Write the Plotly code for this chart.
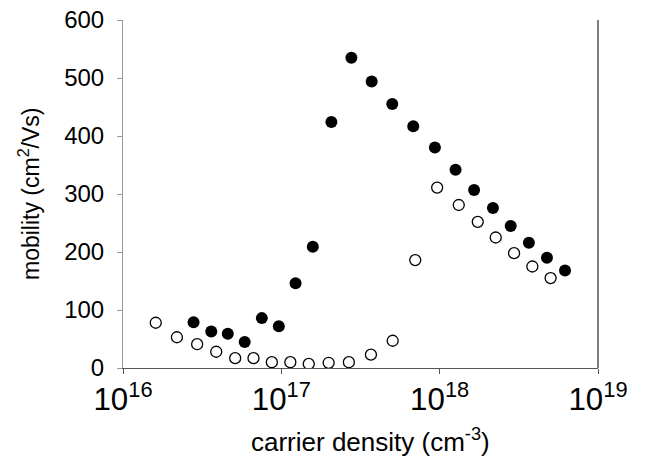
import plotly.graph_objects as go

# carrier density (cm^-3) and mobility (cm^2/Vs)
filled_density = [2.79e16, 3.61e16, 4.59e16, 5.87e16, 7.53e16, 9.64e16, 1.23e17,
                  1.58e17, 2.07e17, 2.77e17, 3.72e17, 5.02e17, 6.81e17, 9.33e17,
                  1.26e18, 1.65e18, 2.17e18, 2.81e18, 3.66e18, 4.76e18, 6.19e18]
filled_mobility = [79, 63, 59, 45, 86, 72, 146, 209, 424, 535, 494, 455, 417, 380,
                   342, 307, 276, 245, 216, 190, 168]

open_density = [1.61e16, 2.19e16, 2.94e16, 3.88e16, 5.11e16, 6.67e16, 8.71e16,
                1.14e17, 1.49e17, 1.99e17, 2.67e17, 3.68e17, 5.05e17, 7.01e17,
                9.64e17, 1.32e18, 1.74e18, 2.26e18, 2.95e18, 3.85e18, 5.02e18]
open_mobility = [78, 53, 41, 28, 17, 17, 10, 10, 7, 9, 10, 23, 47, 186,
                 311, 281, 252, 225, 198, 175, 155]

y_ticks = [0, 100, 200, 300, 400, 500, 600]
x_title = "carrier density (cm<sup>-3</sup>)"
y_title = "mobility (cm<sup>2</sup>/Vs)"

fig = go.Figure()
fig.add_trace(go.Scatter(x=open_density, y=open_mobility, mode="markers",
                         marker=dict(symbol="circle", size=11, color="white",
                                     line=dict(color="black", width=1.3)),
                         showlegend=False))
fig.add_trace(go.Scatter(x=filled_density, y=filled_mobility, mode="markers",
                         marker=dict(symbol="circle", size=12, color="black",
                                     line=dict(color="black", width=0)),
                         showlegend=False))

font_family = "Liberation Sans, Arial, sans-serif"
fig.update_layout(
    width=646, height=465,
    margin=dict(l=123, r=48, t=20, b=97),
    paper_bgcolor="white", plot_bgcolor="white",
    font=dict(family=font_family, size=24, color="black"),
    xaxis=dict(type="log", range=[16, 19], dtick=1, exponentformat="power",
               automargin=False, ticklabeloverflow="allow",
               showgrid=False, zeroline=False, showline=True, linecolor="#555555",
               linewidth=1, ticks="outside", ticklen=5, tickcolor="#555555",
               tickfont=dict(size=25, family=font_family, color="black")),
    yaxis=dict(range=[0, 600], tickvals=y_ticks, showgrid=False, zeroline=False,
               automargin=False, ticklabeloverflow="allow",
               showline=True, linecolor="#999999", linewidth=1, ticks="outside",
               ticklen=5, tickcolor="#999999", ticklabelstandoff=8,
               tickfont=dict(size=24, family=font_family, color="black")),
    shapes=[dict(type="line", xref="paper", yref="paper", x0=1, x1=1, y0=0, y1=1,
                 line=dict(color="black", width=1))],
    annotations=[
        dict(text=x_title, xref="paper", yref="paper", x=0.5, y=0, xshift=10,
             yshift=-72, xanchor="center", yanchor="middle", showarrow=False,
             font=dict(size=26, family=font_family, color="black")),
        dict(text=y_title, xref="paper", yref="paper", x=0, y=0.5, xshift=-94,
             yshift=0, xanchor="center", yanchor="middle", textangle=-90,
             showarrow=False, font=dict(size=23, family=font_family, color="black")),
    ],
)

fig.write_html("out.html", config={"displayModeBar": False},
               post_script="document.body.style.margin='0';document.body.style.overflow='hidden';")
